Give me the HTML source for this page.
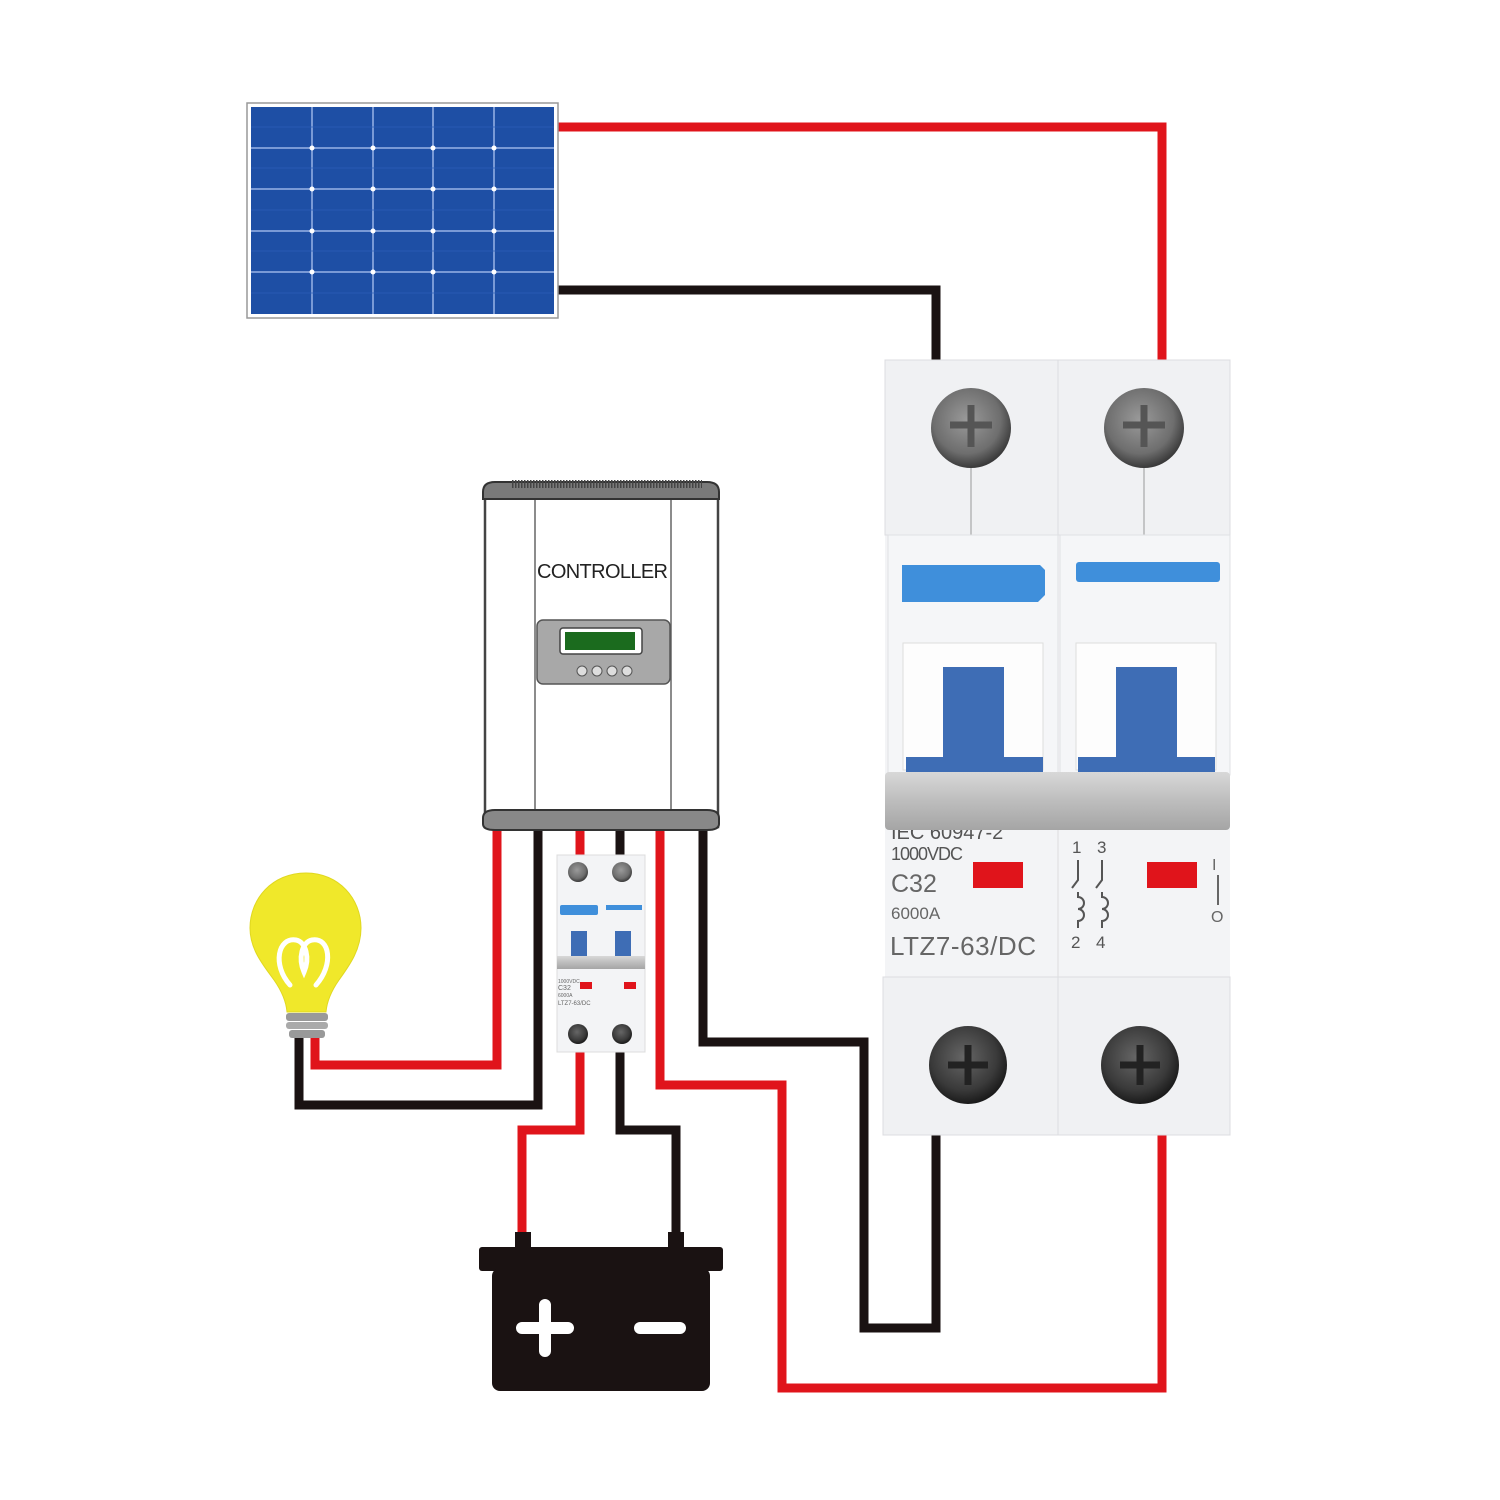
<!DOCTYPE html>
<html><head><meta charset="utf-8"><style>html,body{margin:0;padding:0;background:#fff}svg{display:block}</style></head>
<body>
<svg width="1500" height="1500" viewBox="0 0 1500 1500" xmlns="http://www.w3.org/2000/svg" font-family="Liberation Sans, sans-serif">
<defs>
<radialGradient id="scr" cx="0.45" cy="0.4" r="0.6"><stop offset="0" stop-color="#9a9a9a"/><stop offset="0.7" stop-color="#6e6e6e"/><stop offset="1" stop-color="#3a3a3a"/></radialGradient>
<radialGradient id="scrd" cx="0.45" cy="0.4" r="0.6"><stop offset="0" stop-color="#666"/><stop offset="0.7" stop-color="#3a3a3a"/><stop offset="1" stop-color="#1a1a1a"/></radialGradient>
<linearGradient id="bar" x1="0" y1="0" x2="0" y2="1"><stop offset="0" stop-color="#d8d8d8"/><stop offset="0.5" stop-color="#bdbdbd"/><stop offset="1" stop-color="#a5a5a5"/></linearGradient>
</defs>
<rect width="1500" height="1500" fill="#fff"/>

<g fill="none" stroke-width="9" stroke-linejoin="miter">
<polyline points="558,127 1162,127 1162,362" stroke="#e0141b"/>
<polyline points="558,290 936,290 936,362" stroke="#1a1212"/>
<polyline points="936,1130 936,1328 864,1328 864,1042 703,1042 703,828" stroke="#1a1212"/>
<polyline points="1162,1130 1162,1388 782,1388 782,1085 660,1085 660,828" stroke="#e0141b"/>
<polyline points="497,828 497,1065 315,1065 315,1035" stroke="#e0141b"/>
<polyline points="538,828 538,1105 299,1105 299,1035" stroke="#1a1212"/>
<polyline points="580,828 580,858" stroke="#e0141b"/>
<polyline points="620,828 620,858" stroke="#1a1212"/>
<polyline points="580,1050 580,1130 522,1130 522,1240" stroke="#e0141b"/>
<polyline points="620,1050 620,1130 676,1130 676,1240" stroke="#1a1212"/>
</g>

<rect x="247" y="103" width="311" height="215" fill="#fff" stroke="#999" stroke-width="1.5"/>
<rect x="251" y="107" width="303" height="207" fill="#1e4fa5"/>
<g stroke="#7a9ad6" stroke-width="2">
<line x1="312" y1="107" x2="312" y2="314"/><line x1="373" y1="107" x2="373" y2="314"/><line x1="433" y1="107" x2="433" y2="314"/><line x1="494" y1="107" x2="494" y2="314"/>
<line x1="251" y1="148" x2="554" y2="148"/><line x1="251" y1="189" x2="554" y2="189"/><line x1="251" y1="231" x2="554" y2="231"/><line x1="251" y1="272" x2="554" y2="272"/>
</g>
<g stroke="#2d5fb8" stroke-width="1" opacity="0.7">
<line x1="251" y1="127" x2="554" y2="127"/><line x1="251" y1="168" x2="554" y2="168"/><line x1="251" y1="210" x2="554" y2="210"/><line x1="251" y1="251" x2="554" y2="251"/><line x1="251" y1="293" x2="554" y2="293"/>
</g>
<g fill="#fff">
<circle cx="312" cy="148" r="2.5"/><circle cx="373" cy="148" r="2.5"/><circle cx="433" cy="148" r="2.5"/><circle cx="494" cy="148" r="2.5"/>
<circle cx="312" cy="189" r="2.5"/><circle cx="373" cy="189" r="2.5"/><circle cx="433" cy="189" r="2.5"/><circle cx="494" cy="189" r="2.5"/>
<circle cx="312" cy="231" r="2.5"/><circle cx="373" cy="231" r="2.5"/><circle cx="433" cy="231" r="2.5"/><circle cx="494" cy="231" r="2.5"/>
<circle cx="312" cy="272" r="2.5"/><circle cx="373" cy="272" r="2.5"/><circle cx="433" cy="272" r="2.5"/><circle cx="494" cy="272" r="2.5"/>
</g>

<g>
<rect x="885" y="360" width="345" height="775" fill="#f3f4f6"/>
<rect x="885" y="360" width="173" height="175" fill="#f0f1f3" stroke="#dcdde0"/>
<rect x="1058" y="360" width="172" height="175" fill="#f0f1f3" stroke="#dcdde0"/>
<line x1="971" y1="460" x2="971" y2="535" stroke="#999" stroke-width="1"/>
<line x1="1144" y1="460" x2="1144" y2="535" stroke="#999" stroke-width="1"/>
<circle cx="971" cy="428" r="40" fill="url(#scr)"/>
<path d="M950 425h42M971 405v42" stroke="#555" stroke-width="7"/>
<circle cx="1144" cy="428" r="40" fill="url(#scr)"/>
<path d="M1123 425h42M1144 405v42" stroke="#555" stroke-width="7"/>
<rect x="888" y="535" width="170" height="240" fill="#f5f6f8" stroke="#e0e1e4"/>
<rect x="1060" y="535" width="170" height="240" fill="#f5f6f8" stroke="#e0e1e4"/>
<path d="M902 565h138l5 5v25l-7 7h-136z" fill="#3f8fdb"/>
<rect x="1076" y="562" width="144" height="20" rx="3" fill="#3f8fdb"/>
<rect x="903" y="643" width="140" height="127" fill="#fdfdfd" stroke="#ddd"/>
<rect x="1076" y="643" width="140" height="127" fill="#fdfdfd" stroke="#ddd"/>
<rect x="943" y="667" width="61" height="100" fill="#3e6db5"/>
<rect x="1116" y="667" width="61" height="100" fill="#3e6db5"/>
<rect x="906" y="757" width="137" height="15" fill="#3e6db5"/>
<rect x="1078" y="757" width="137" height="15" fill="#3e6db5"/>
<rect x="885" y="830" width="345" height="147" fill="#f3f4f6"/>
<line x1="1058" y1="830" x2="1058" y2="1135" stroke="#ddd"/>
<text x="891" y="839" font-size="20" fill="#555">IEC 60947-2</text>
<rect x="885" y="772" width="345" height="58" rx="4" fill="url(#bar)"/>
<text x="891" y="860" font-size="18" fill="#555" textLength="72">1000VDC</text>
<text x="891" y="892" font-size="25" fill="#666">C32</text>
<text x="891" y="919" font-size="17" fill="#666">6000A</text>
<text x="890" y="955" font-size="26" fill="#666" textLength="146">LTZ7-63/DC</text>
<rect x="973" y="862" width="50" height="26" fill="#e0141b"/>
<rect x="1147" y="862" width="50" height="26" fill="#e0141b"/>
<text x="1072" y="853" font-size="17" fill="#555">1</text><text x="1097" y="853" font-size="17" fill="#555">3</text>
<path d="M1078 860v20l-6 8M1078 892v5a6 6 0 0 1 0 12a6 6 0 0 1 0 12v7M1102 860v20l-6 8M1102 892v5a6 6 0 0 1 0 12a6 6 0 0 1 0 12v7" stroke="#555" stroke-width="2" fill="none"/>
<text x="1071" y="948" font-size="17" fill="#555">2</text><text x="1096" y="948" font-size="17" fill="#555">4</text>
<text x="1212" y="870" font-size="16" fill="#666">I</text>
<path d="M1218 875v30" stroke="#666" stroke-width="2"/>
<text x="1211" y="922" font-size="16" fill="#666">O</text>
<rect x="883" y="977" width="175" height="158" fill="#f0f1f3" stroke="#dcdde0"/>
<rect x="1058" y="977" width="172" height="158" fill="#f0f1f3" stroke="#dcdde0"/>
<circle cx="968" cy="1065" r="39" fill="url(#scrd)"/>
<path d="M948 1065h40M968 1045v40" stroke="#222" stroke-width="7"/>
<circle cx="1140" cy="1065" r="39" fill="url(#scrd)"/>
<path d="M1120 1065h40M1140 1045v40" stroke="#222" stroke-width="7"/>
</g>

<g>
<rect x="485" y="492" width="233" height="335" fill="#fff" stroke="#444" stroke-width="2.5"/>
<line x1="535" y1="495" x2="535" y2="820" stroke="#666" stroke-width="1.5"/>
<line x1="671" y1="495" x2="671" y2="820" stroke="#666" stroke-width="1.5"/>
<path d="M483 492q0-10 12-10h212q12 0 12 10v7h-236z" fill="#7a7a7a" stroke="#333" stroke-width="2"/>
<path d="M512 484h190" stroke="#444" stroke-width="8" stroke-dasharray="1.5 1.5"/>
<path d="M483 818q0-8 12-8h212q12 0 12 8v6q0 6-12 6h-212q-12 0-12-6z" fill="#888" stroke="#333" stroke-width="2"/>
<text x="537" y="578" font-size="20" fill="#222" textLength="131">CONTROLLER</text>
<rect x="537" y="620" width="133" height="64" rx="6" fill="#a8a8a8" stroke="#555" stroke-width="1.5"/>
<rect x="560" y="628" width="82" height="26" rx="3" fill="#fff" stroke="#444" stroke-width="1.5"/>
<rect x="565" y="632" width="70" height="18" fill="#1b6b1e"/>
<g fill="#ddd" stroke="#555" stroke-width="1"><circle cx="582" cy="671" r="5"/><circle cx="597" cy="671" r="5"/><circle cx="612" cy="671" r="5"/><circle cx="627" cy="671" r="5"/></g>
</g>

<g>
<rect x="557" y="855" width="88" height="197" fill="#f3f4f6" stroke="#ddd"/>
<circle cx="578" cy="872" r="10" fill="url(#scr)"/>
<circle cx="622" cy="872" r="10" fill="url(#scr)"/>
<rect x="560" y="905" width="38" height="10" rx="2" fill="#3f8fdb"/>
<rect x="606" y="905" width="36" height="5" fill="#3f8fdb"/>
<rect x="571" y="931" width="16" height="25" fill="#3e6db5"/>
<rect x="615" y="931" width="16" height="25" fill="#3e6db5"/>
<rect x="557" y="956" width="88" height="13" fill="url(#bar)"/>
<text x="558" y="983" font-size="5" fill="#666">1000VDC</text>
<text x="558" y="990" font-size="7" fill="#666">C32</text>
<text x="558" y="997" font-size="5" fill="#666">6000A</text>
<text x="558" y="1005" font-size="6" fill="#666">LTZ7-63/DC</text>
<rect x="580" y="982" width="12" height="7" fill="#e0141b"/>
<rect x="624" y="982" width="12" height="7" fill="#e0141b"/>
<circle cx="578" cy="1034" r="10" fill="url(#scrd)"/>
<circle cx="622" cy="1034" r="10" fill="url(#scrd)"/>
</g>

<g>
<path d="M306 873c-34 0-56 26-56 55c0 22 14 38 24 52c7 10 12 20 13 32h39c1-12 6-22 13-32c10-14 22-30 22-52c0-29-22-55-55-55z" fill="#f0e82a" stroke="#e0d820"/>
<path d="M290 985c-18-20-12-48 6-45c10 2 14 18 8 32c-6-14-2-30 8-32c18-3 22 25 4 45" fill="none" stroke="#fff" stroke-width="5" stroke-linecap="round"/>
<rect x="286" y="1013" width="42" height="8" rx="3" fill="#999"/>
<rect x="286" y="1022" width="42" height="7" rx="3" fill="#aaa"/>
<rect x="289" y="1030" width="36" height="8" rx="3" fill="#999"/>
</g>

<g>
<rect x="515" y="1232" width="16" height="18" fill="#1a1212"/>
<rect x="668" y="1232" width="16" height="18" fill="#1a1212"/>
<rect x="479" y="1247" width="244" height="24" rx="3" fill="#1a1212"/>
<rect x="492" y="1268" width="218" height="123" rx="8" fill="#1a1212"/>
<path d="M522 1328h46M545 1305v46" stroke="#fff" stroke-width="12" stroke-linecap="round"/>
<path d="M640 1328h40" stroke="#fff" stroke-width="12" stroke-linecap="round"/>
</g>
</svg>
</body></html>
